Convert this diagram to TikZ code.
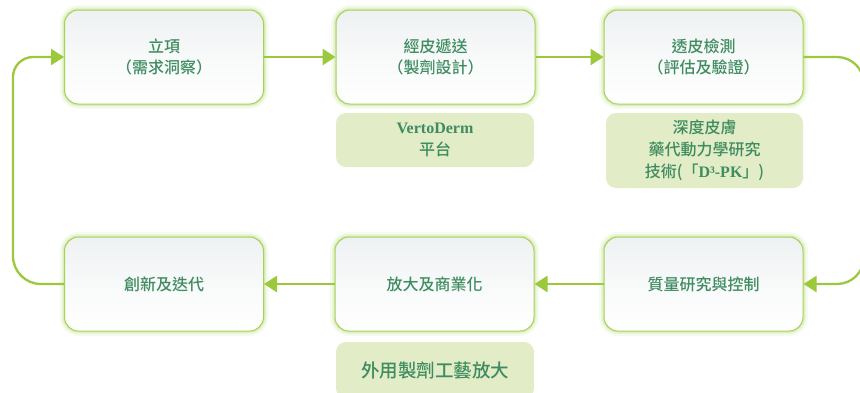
\documentclass[tikz,border=0pt]{standalone}
\usepackage{fontspec}
\setmainfont{Noto Sans CJK TC}[UprightFont=* Medium]
\newfontfamily\lserif{Liberation Serif}
\usetikzlibrary{arrows.meta}
\definecolor{flowc}{HTML}{9CC83C}
\definecolor{bordc}{HTML}{A9D15A}
\definecolor{glowc}{HTML}{B8DC7E}
\definecolor{txtc}{HTML}{3E8C60}
\definecolor{topc}{HTML}{EEF1F2}
\definecolor{subc}{HTML}{E2ECC7}
\newcommand{\serbold}[1]{{\lserif\bfseries #1}}
\begin{document}
\begin{tikzpicture}[x=1pt,y=1pt,
  mainbox/.style={rounded corners=14pt, draw=bordc, line width=1pt,
    top color=topc, bottom color=white, middle color=white!60!topc,
    minimum width=199pt, minimum height=94pt, inner sep=0pt,
    text=txtc, align=center, font=\fontsize{16}{20.5}\selectfont,
    preaction={draw=glowc, line width=10pt, opacity=0.12},
    preaction={draw=glowc, line width=6pt, opacity=0.2},
    preaction={draw=glowc, line width=3pt, opacity=0.35}},
  subbox/.style={rounded corners=10pt, fill=subc, draw=none,
    minimum width=198pt, inner sep=0pt, text=txtc, align=center,
    font=\fontsize{16}{22}\selectfont},
  flow/.style={draw=flowc, line width=2.8pt,
    -{Triangle[length=13pt,width=16pt]}},
  loop/.style={draw=flowc, line width=2.3pt,
    -{Triangle[length=13pt,width=16pt]}}
]
\useasboundingbox (0,0) rectangle (860,-392);

\node[mainbox] (b1) at (164,-57) {立項\\（需求洞察）};
\node[mainbox] (b2) at (435.5,-57) {經皮遞送\\（製劑設計）};
\node[mainbox] (b3) at (703.5,-57) {透皮檢測\\（評估及驗證）};
\node[mainbox] (b4) at (164,-284) {創新及迭代};
\node[mainbox] (b5) at (434.5,-284) {放大及商業化};
\node[mainbox] (b6) at (703.5,-284) {質量研究與控制};

\node[subbox, minimum height=54pt] (s2) at (435,-140) {\serbold{VertoDerm}\\平台};
\node[subbox, minimum width=197pt, minimum height=75pt] (s3) at (704.5,-150.5)
  {深度皮膚\\藥代動力學研究\\技術(「\serbold{D³-PK}」)};
\node[subbox, minimum height=56pt, font=\fontsize{18.5}{22}\selectfont] (s5) at (435,-370)
  {\raisebox{1pt}{外用製劑工藝放大}};

\coordinate (L) at (13,-170);
\coordinate (R) at (864,-170);

\draw[flow] (b1) -- (b2);
\draw[flow] (b2) -- (b3);
\draw[flow] (b6) -- (b5);
\draw[flow] (b5) -- (b4);
\draw[loop, rounded corners=27pt] (b3.east) -| (R) |- (b6.east);
\draw[loop] (b4.west) [rounded corners=28pt] -| (L) [rounded corners=20pt] |- (b1.west);
\end{tikzpicture}
\end{document}
